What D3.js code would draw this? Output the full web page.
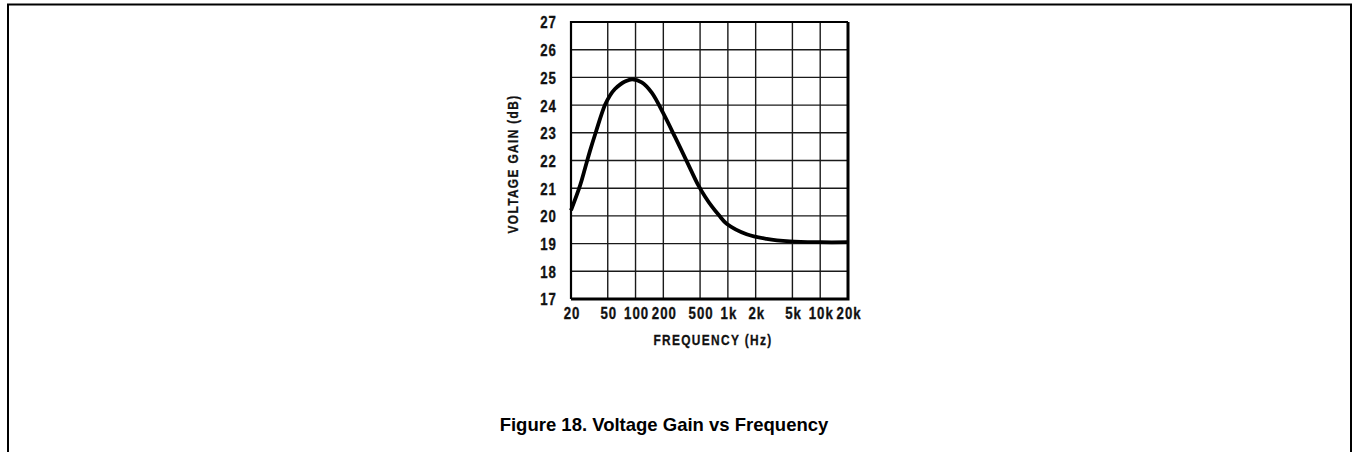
<!DOCTYPE html>
<html>
<head>
<meta charset="utf-8">
<script src="https://cdn.jsdelivr.net/npm/d3@7"></script>
<style>
  html, body { margin: 0; padding: 0; background: #fff; }
  svg { display: block; }
  .tick-label { font-family: "Liberation Sans", Arial, sans-serif; font-weight: bold; font-size: 16.5px; fill: #111; stroke: #111; stroke-width: 0.35px; letter-spacing: 1.3px; }
  .axis-title { font-family: "Liberation Sans", Arial, sans-serif; font-weight: bold; font-size: 14px; fill: #111; stroke: #111; stroke-width: 0.3px; letter-spacing: 1.6px; }
  .caption { font-family: "Liberation Sans", Arial, sans-serif; font-weight: bold; font-size: 18.5px; fill: #000; }
</style>
</head>
<body>
<script>
// ---- data ----
const xTickValues = [20, 50, 100, 200, 500, 1000, 2000, 5000, 10000, 20000];
const xTickLabels = ["20", "50", "100", "200", "500", "1k", "2k", "5k", "10k", "20k"];
const yTickValues = [17, 18, 19, 20, 21, 22, 23, 24, 25, 26, 27];
const frequencyHz = [20, 25.1, 28.4, 32, 37.2, 46.6, 52.9, 59.8, 67.9, 76.8, 91.9, 116.8, 149.8, 200, 267.6, 361, 479, 565, 667, 802, 970, 1597, 2632, 4690, 10000, 20000];
const voltageGainDb = [20.2, 21.1, 21.72, 22.33, 23.03, 24.0, 24.35, 24.58, 24.74, 24.85, 24.93, 24.82, 24.45, 23.7, 22.85, 21.95, 21.1, 20.7, 20.35, 20.02, 19.72, 19.34, 19.17, 19.08, 19.05, 19.05];
const xTitle = "FREQUENCY (Hz)";
const yTitle = "VOLTAGE GAIN (dB)";
const captionText = "Figure 18. Voltage Gain vs Frequency";

// ---- layout ----
const W = 1353, H = 452;
const plot = { left: 571, right: 848, top: 22, bottom: 299 };
const SX_TICK = 0.8;   // horizontal condensing of tick lettering
const SX_TITLE = 0.85; // horizontal condensing of axis titles

const svg = d3.select("body").append("svg").attr("width", W).attr("height", H);

// page frame (left, top, right edges)
svg.append("path")
  .attr("d", `M8,${H} L8,4.5 L1351,4.5 L1351,${H}`)
  .attr("fill", "none").attr("stroke", "#000").attr("stroke-width", 2);

const x = d3.scaleLog().domain([20, 20000]).range([plot.left, plot.right]);
const y = d3.scaleLinear().domain([17, 27]).range([plot.bottom, plot.top]);

// grid
const grid = svg.append("g");
grid.selectAll("line.v").data(xTickValues).join("line")
  .attr("x1", d => x(d)).attr("x2", d => x(d))
  .attr("y1", plot.top).attr("y2", plot.bottom)
  .attr("stroke", "#1a1a1a").attr("stroke-width", 1.4);
grid.selectAll("line.h").data(yTickValues).join("line")
  .attr("x1", plot.left).attr("x2", plot.right)
  .attr("y1", d => y(d)).attr("y2", d => y(d))
  .attr("stroke", "#1a1a1a").attr("stroke-width", 1.4);

// plot border: left/top thinner, right/bottom heavier
svg.append("path")
  .attr("d", `M${plot.left},${plot.bottom} V${plot.top} H${plot.right}`)
  .attr("fill", "none").attr("stroke", "#000").attr("stroke-width", 2.2);
svg.append("path")
  .attr("d", `M${plot.right},${plot.top} V${plot.bottom} H${plot.left}`)
  .attr("fill", "none").attr("stroke", "#000").attr("stroke-width", 3);

// axes (text only)
const xAxis = d3.axisBottom(x).tickValues(xTickValues)
  .tickFormat((d, i) => xTickLabels[i]).tickSize(0).tickPadding(0);
const gx = svg.append("g").attr("transform", `translate(0,${plot.bottom})`).call(xAxis);
gx.select(".domain").remove();
gx.selectAll("text").attr("class", "tick-label").attr("fill", null)
  .attr("dy", null).attr("y", null)
  .attr("transform", `translate(0.6,19.5) scale(${SX_TICK},1)`);

const yAxis = d3.axisLeft(y).tickValues(yTickValues).tickFormat(d3.format("d")).tickSize(0).tickPadding(0);
const gy = svg.append("g").attr("transform", `translate(${plot.left},0)`).call(yAxis);
gy.select(".domain").remove();
gy.selectAll("text").attr("class", "tick-label").attr("fill", null)
  .attr("x", null).attr("dy", "0.36em")
  .attr("transform", `translate(-14,0) scale(${SX_TICK},1)`);

// titles
svg.append("text").attr("class", "axis-title")
  .attr("transform", `translate(713,345) scale(${SX_TITLE},1)`)
  .attr("text-anchor", "middle").text(xTitle);
svg.append("text").attr("class", "axis-title")
  .attr("transform", `translate(518,164) rotate(-90) scale(${SX_TITLE},1)`)
  .attr("text-anchor", "middle").text(yTitle);

// curve
const pts = frequencyHz.map((f, i) => [f, voltageGainDb[i]]);
const line = d3.line().x(d => x(d[0])).y(d => y(d[1])).curve(d3.curveCatmullRom.alpha(0.5));
svg.append("path").datum(pts).attr("d", line)
  .attr("fill", "none").attr("stroke", "#000").attr("stroke-width", 3.8)
  .attr("stroke-linejoin", "round");

// caption
svg.append("text").attr("class", "caption")
  .attr("x", 664).attr("y", 431).attr("text-anchor", "middle").text(captionText);
</script>
</body>
</html>
